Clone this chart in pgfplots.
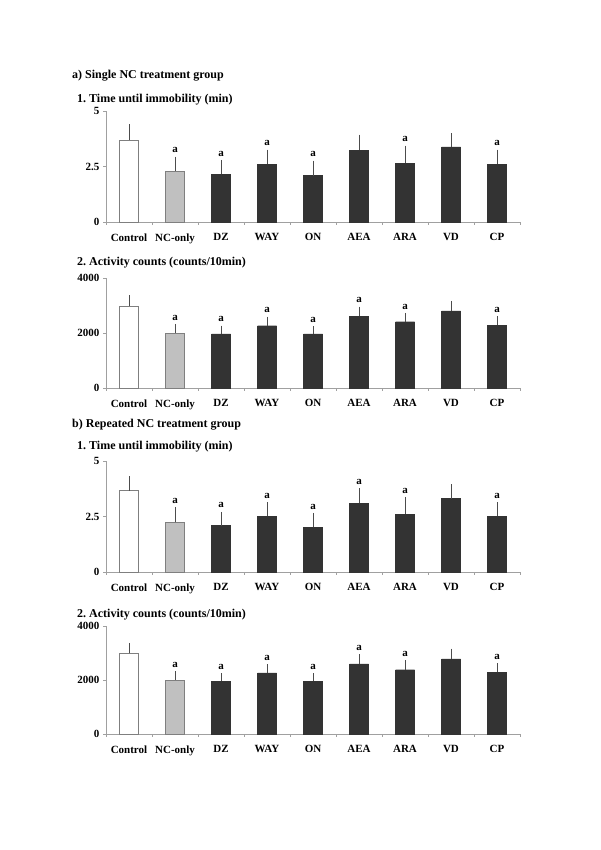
\documentclass[border=0pt]{standalone}
\usepackage{fontspec}
\setmainfont{Liberation Serif}
\usepackage{pgfplots}
\usepackage{pgfplotstable}
\pgfplotsset{compat=1.18}
\frenchspacing

\definecolor{darkbar}{HTML}{333333}
\definecolor{lightbar}{HTML}{C0C0C0}
\definecolor{outl}{HTML}{7F7F7F}
\definecolor{axgray}{HTML}{A0A0A0}

\newcommand{\ticks}{\fontsize{11}{13}\selectfont\bfseries}
\newcommand{\heads}{\fontsize{12}{14}\selectfont\bfseries}

% columns: x, mean, upper error, significance mark
\pgfplotstableread{
x y err sig
0 3.70 0.60 {}
1 2.30 0.53 a
2 2.15 0.53 a
3 2.61 0.54 a
4 2.09 0.56 a
5 3.24 0.58 {}
6 2.65 0.68 a
7 3.38 0.50 {}
8 2.61 0.54 a
}\timeA
\pgfplotstableread{
x y err sig
0 2980 300 {}
1 2010 230 a
2 1970 210 a
3 2265 240 a
4 1965 195 a
5 2615 255 a
6 2410 230 a
7 2800 280 {}
8 2290 240 a
}\countA
\pgfplotstableread{
x y err sig
0 3.67 0.52 {}
1 2.24 0.58 a
2 2.09 0.51 a
3 2.52 0.52 a
4 2.01 0.54 a
5 3.09 0.58 a
6 2.61 0.66 a
7 3.31 0.54 {}
8 2.52 0.52 a
}\timeB
\pgfplotstableread{
x y err sig
0 2985 300 {}
1 2005 220 a
2 1955 200 a
3 2265 220 a
4 1955 200 a
5 2600 260 a
6 2380 260 a
7 2785 285 {}
8 2280 250 a
}\countB

\pgfplotsset{
  panel/.style={
    scale only axis, width=414pt, anchor=south west,
    xmin=-0.5, xmax=8.5, ymin=0,
    axis lines*=left, axis line style={-, axgray},
    xtick={0,...,8},
    xticklabels={Control,NC-only,DZ,WAY,ON,AEA,ARA,VD,CP},
    minor xtick={-0.5,0.5,...,8.5},
    major x tick style={draw=none},
    minor x tick style={axgray},
    ytick style={axgray},
    tick align=outside, major tick length=3pt, minor tick length=3pt,
    tick label style={font=\ticks},
    xticklabel style={yshift=-5pt},
    /pgf/number format/assume math mode=true,
    /pgf/number format/1000 sep={},
    clip=false,
  },
  barplot/.style={ybar, bar width=19pt, bar shift=0pt,
    error bars/y dir=plus, error bars/y explicit,
    error bars/error bar style={black!70, line width=0.6pt},
    error bars/error mark options={black!70, mark size=2.5pt, line width=0.6pt}},
  siglabels/.style={draw=none, mark=none, nodes near coords,
    point meta=explicit symbolic,
    nodes near coords style={anchor=south, inner sep=0pt, yshift=6pt, font=\ticks}},
}

\newcommand{\bars}[1]{%
  \addplot[barplot, fill=white, draw=outl, restrict x to domain=0:0]
    table[x=x, y=y, y error=err] {#1};
  \addplot[barplot, fill=lightbar, draw=outl, restrict x to domain=1:1]
    table[x=x, y=y, y error=err] {#1};
  \addplot[barplot, fill=darkbar, draw=darkbar, restrict x to domain=2:8]
    table[x=x, y=y, y error=err] {#1};
  \addplot[siglabels] table[x=x, y expr=\thisrow{y}+\thisrow{err}, meta=sig] {#1};
}

\begin{document}
\begin{tikzpicture}
\path[use as bounding box, fill=white] (0pt,0pt) rectangle (600pt,850pt);

\node[anchor=west, font=\heads, inner sep=0pt] at (72pt,774pt) {a) Single NC treatment group};
\node[anchor=west, font=\heads, inner sep=0pt] at (77pt,750pt) {1. Time until immobility (min)};
\begin{axis}[panel, at={(106pt,628pt)}, height=111pt, ymax=5, ytick={0,2.5,5}]
  \bars{\timeA}
\end{axis}

\node[anchor=west, font=\heads, inner sep=0pt] at (77pt,587pt) {2. Activity counts (counts/10min)};
\begin{axis}[panel, at={(106pt,462pt)}, height=110pt, ymax=4000, ytick={0,2000,4000}]
  \bars{\countA}
\end{axis}

\node[anchor=west, font=\heads, inner sep=0pt] at (72pt,425pt) {b) Repeated NC treatment group};
\node[anchor=west, font=\heads, inner sep=0pt] at (77pt,403pt) {1. Time until immobility (min)};
\begin{axis}[panel, at={(106pt,278pt)}, height=111pt, ymax=5, ytick={0,2.5,5}]
  \bars{\timeB}
\end{axis}

\node[anchor=west, font=\heads, inner sep=0pt] at (77pt,235pt) {2. Activity counts (counts/10min)};
\begin{axis}[panel, at={(106pt,116pt)}, height=108pt, ymax=4000, ytick={0,2000,4000}]
  \bars{\countB}
\end{axis}
\end{tikzpicture}
\end{document}
